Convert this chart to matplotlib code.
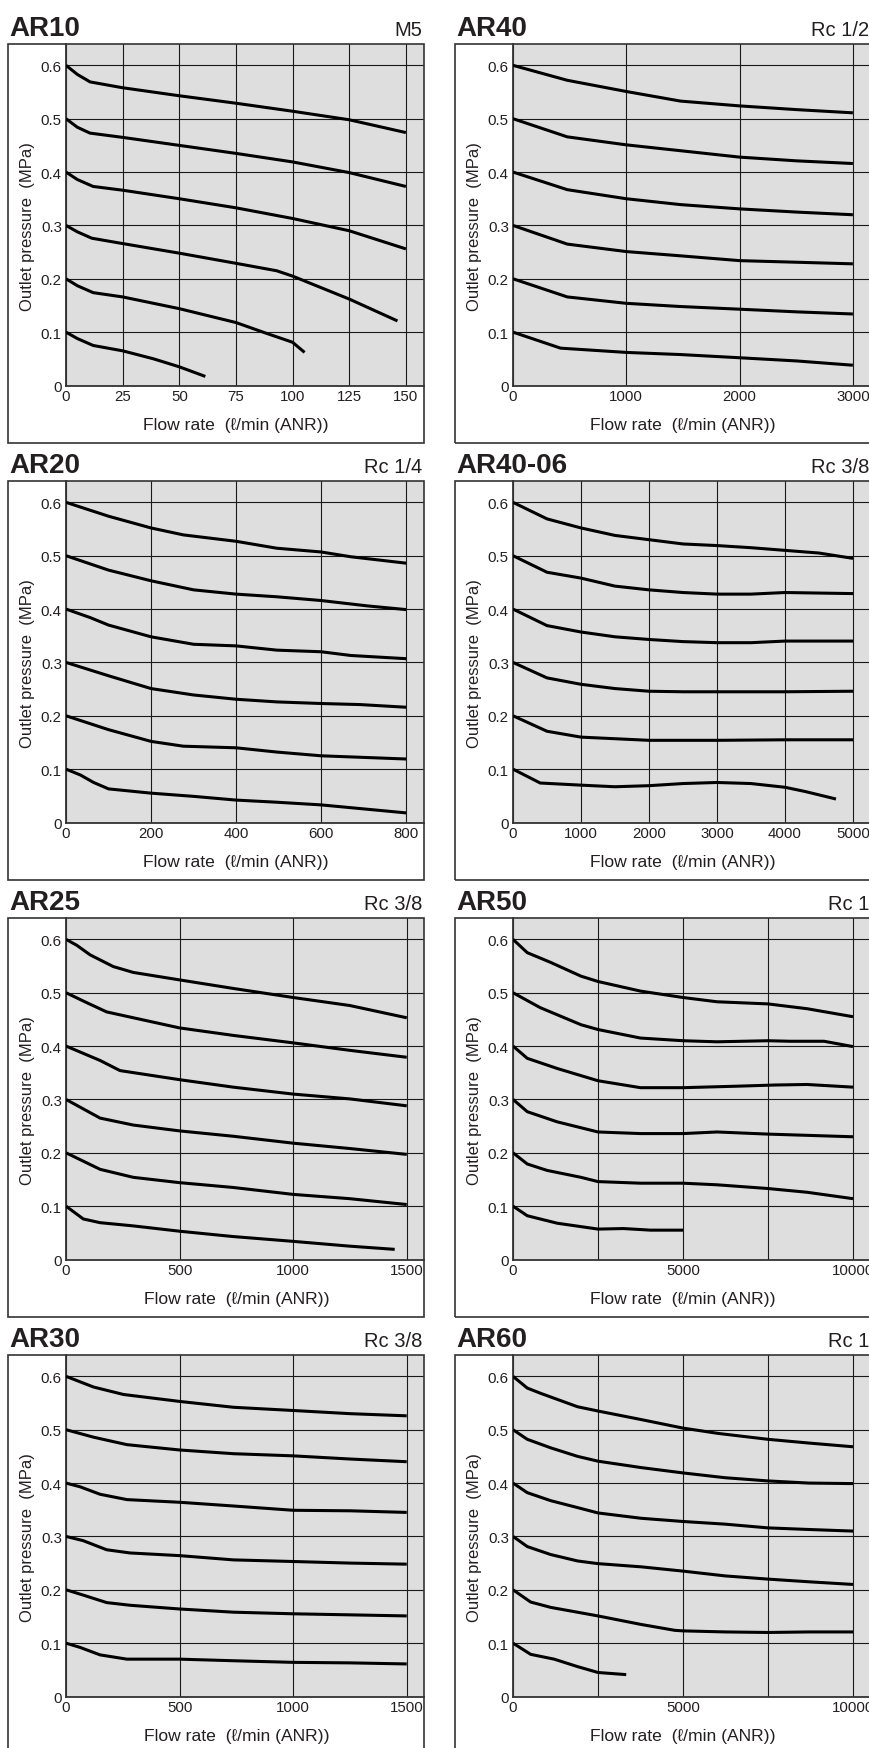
import matplotlib
matplotlib.use("Agg")
import matplotlib.pyplot as plt
from matplotlib.patches import Rectangle
from matplotlib.ticker import FixedLocator

plt.rcParams['font.family'] = ['Liberation Sans', 'DejaVu Sans']

# ---- data (flow, outlet pressure) ----
ar10_flow = [
    [0, 5, 10.6, 25, 50, 75, 100, 125, 150],
    [0, 5, 10.6, 25, 50, 75, 100, 125, 150],
    [0, 5, 12, 25, 50, 75, 100, 125, 150],
    [0, 5, 11.4, 25, 50, 75, 93, 100, 125, 146.3],
    [0, 5, 12, 25, 50, 75, 87.3, 100, 105.3],
    [0, 5, 12, 25, 38.6, 50, 61.5],
]
ar10_press = [
    [0.600, 0.583, 0.569, 0.558, 0.543, 0.529, 0.514, 0.498, 0.474],
    [0.500, 0.484, 0.473, 0.465, 0.450, 0.435, 0.419, 0.399, 0.373],
    [0.400, 0.386, 0.373, 0.366, 0.350, 0.333, 0.313, 0.290, 0.256],
    [0.300, 0.288, 0.276, 0.266, 0.248, 0.229, 0.215, 0.205, 0.162, 0.121],
    [0.200, 0.187, 0.174, 0.166, 0.144, 0.118, 0.0995, 0.081, 0.062],
    [0.100, 0.088, 0.075, 0.065, 0.050, 0.035, 0.017],
]

ar20_flow = [
    [0, 100, 200, 276, 400, 496, 600, 670, 800],
    [0, 100, 200, 300, 400, 496, 600, 708, 800],
    [0, 57, 100, 200, 300, 400, 496, 600, 670, 800],
    [0, 100, 200, 300, 400, 496, 600, 692, 800],
    [0, 100, 200, 276, 400, 496, 600, 800],
    [0, 34, 65, 100, 200, 300, 400, 496, 600, 800],
]
ar20_press = [
    [0.600, 0.574, 0.552, 0.539, 0.527, 0.514, 0.507, 0.498, 0.486],
    [0.500, 0.473, 0.453, 0.436, 0.428, 0.423, 0.416, 0.406, 0.399],
    [0.400, 0.384, 0.370, 0.348, 0.334, 0.331, 0.323, 0.320, 0.313, 0.307],
    [0.300, 0.275, 0.251, 0.239, 0.231, 0.226, 0.223, 0.221, 0.216],
    [0.200, 0.174, 0.152, 0.143, 0.140, 0.132, 0.125, 0.119],
    [0.100, 0.089, 0.075, 0.063, 0.055, 0.049, 0.042, 0.038, 0.033, 0.018],
]

ar25_flow = [
    [0, 47, 106, 208, 296, 500, 736, 1000, 1249, 1500],
    [0, 88, 179, 500, 736, 1000, 1249, 1500],
    [0, 150, 238, 500, 736, 1000, 1249, 1500],
    [0, 150, 296, 500, 736, 1000, 1249, 1500],
    [0, 150, 296, 500, 736, 1000, 1249, 1500],
    [0, 76, 150, 296, 500, 736, 1000, 1249, 1447],
]
ar25_press = [
    [0.600, 0.589, 0.571, 0.549, 0.538, 0.524, 0.508, 0.491, 0.476, 0.453],
    [0.500, 0.482, 0.464, 0.434, 0.420, 0.406, 0.392, 0.379],
    [0.400, 0.373, 0.354, 0.337, 0.323, 0.310, 0.301, 0.288],
    [0.300, 0.265, 0.252, 0.241, 0.231, 0.218, 0.208, 0.197],
    [0.200, 0.169, 0.154, 0.144, 0.135, 0.122, 0.114, 0.103],
    [0.100, 0.076, 0.069, 0.063, 0.053, 0.043, 0.034, 0.025, 0.019],
]

ar30_flow = [
    [0, 121, 253, 500, 738, 1000, 1253, 1500],
    [0, 121, 268, 500, 738, 1000, 1253, 1500],
    [0, 62, 150, 268, 500, 738, 1000, 1253, 1500],
    [0, 76, 179, 282, 500, 738, 1000, 1253, 1500],
    [0, 76, 179, 282, 500, 738, 1000, 1253, 1500],
    [0, 62, 150, 268, 500, 738, 1000, 1253, 1500],
]
ar30_press = [
    [0.600, 0.580, 0.566, 0.553, 0.542, 0.536, 0.530, 0.526],
    [0.500, 0.486, 0.472, 0.462, 0.455, 0.451, 0.445, 0.440],
    [0.400, 0.393, 0.379, 0.369, 0.364, 0.357, 0.349, 0.348, 0.345],
    [0.300, 0.292, 0.275, 0.269, 0.264, 0.256, 0.253, 0.250, 0.248],
    [0.200, 0.190, 0.176, 0.171, 0.164, 0.158, 0.155, 0.153, 0.151],
    [0.100, 0.092, 0.078, 0.070, 0.070, 0.067, 0.064, 0.063, 0.061],
]

ar40_flow = [
    [0, 479, 1000, 1479, 2000, 2505, 3000],
    [0, 479, 1000, 1479, 2000, 2505, 3000],
    [0, 479, 1000, 1479, 2000, 2505, 3000],
    [0, 479, 1000, 1479, 2000, 2505, 3000],
    [0, 479, 1000, 1479, 2000, 2505, 3000],
    [0, 420, 1000, 1479, 2000, 2505, 3000],
]
ar40_press = [
    [0.600, 0.572, 0.551, 0.533, 0.524, 0.517, 0.511],
    [0.500, 0.466, 0.451, 0.440, 0.428, 0.421, 0.416],
    [0.400, 0.367, 0.350, 0.339, 0.331, 0.325, 0.320],
    [0.300, 0.265, 0.251, 0.243, 0.234, 0.231, 0.228],
    [0.200, 0.166, 0.154, 0.148, 0.143, 0.138, 0.134],
    [0.100, 0.070, 0.062, 0.058, 0.052, 0.046, 0.038],
]

ar4006_flow = [
    [0, 500, 1000, 1500, 2000, 2500, 3000, 3500, 4000, 4500, 5000],
    [0, 500, 1000, 1500, 2000, 2500, 3000, 3500, 4000, 5000],
    [0, 500, 1000, 1500, 2000, 2500, 3000, 3500, 4000, 5000],
    [0, 500, 1000, 1500, 2000, 2500, 3000, 4000, 5000],
    [0, 500, 1000, 1500, 2000, 3000, 4000, 5000],
    [0, 400, 1000, 1500, 2000, 2500, 3000, 3500, 4000, 4300, 4750],
]
ar4006_press = [
    [0.600, 0.569, 0.552, 0.538, 0.530, 0.522, 0.519, 0.515, 0.510, 0.505, 0.495],
    [0.500, 0.469, 0.458, 0.443, 0.436, 0.431, 0.428, 0.428, 0.431, 0.429],
    [0.400, 0.369, 0.357, 0.348, 0.343, 0.339, 0.337, 0.337, 0.340, 0.340],
    [0.300, 0.271, 0.259, 0.251, 0.246, 0.245, 0.245, 0.245, 0.246],
    [0.200, 0.171, 0.160, 0.157, 0.154, 0.154, 0.155, 0.155],
    [0.100, 0.074, 0.070, 0.067, 0.069, 0.073, 0.075, 0.073, 0.066, 0.058, 0.044],
]

ar50_flow = [
    [0, 420, 1100, 2000, 2500, 3750, 5000, 6000, 7500, 8650, 10000],
    [0, 800, 2000, 2500, 3750, 5000, 6000, 7500, 8150, 9150, 10000],
    [0, 420, 1300, 2500, 3750, 5000, 6700, 7700, 8650, 10000],
    [0, 420, 1300, 2500, 3750, 5000, 6000, 7500, 10000],
    [0, 420, 1000, 2000, 2500, 3750, 5000, 6000, 7500, 8650, 10000],
    [0, 420, 1300, 2500, 3250, 4050, 5000],
]
ar50_press = [
    [0.600, 0.575, 0.557, 0.531, 0.521, 0.503, 0.491, 0.483, 0.479, 0.470, 0.455],
    [0.500, 0.472, 0.440, 0.431, 0.415, 0.410, 0.408, 0.410, 0.409, 0.409, 0.399],
    [0.400, 0.377, 0.358, 0.335, 0.322, 0.322, 0.325, 0.327, 0.328, 0.323],
    [0.300, 0.277, 0.258, 0.239, 0.236, 0.236, 0.239, 0.235, 0.230],
    [0.200, 0.179, 0.167, 0.154, 0.146, 0.143, 0.143, 0.140, 0.133, 0.126, 0.114],
    [0.100, 0.082, 0.068, 0.057, 0.058, 0.055, 0.055],
]

ar60_flow = [
    [0, 420, 820, 1900, 2500, 3770, 5000, 6040, 7500, 8700, 10000],
    [0, 420, 1110, 1900, 2500, 3770, 5000, 6240, 7500, 8700, 10000],
    [0, 420, 1110, 1900, 2500, 3770, 5000, 6240, 7500, 8700, 10000],
    [0, 420, 1110, 1900, 2500, 3770, 5000, 6240, 7500, 8700, 10000],
    [0, 520, 1110, 2500, 3770, 4760, 5000, 6240, 7500, 8700, 10000],
    [0, 520, 1210, 1900, 2500, 3330],
]
ar60_press = [
    [0.600, 0.578, 0.568, 0.543, 0.535, 0.519, 0.503, 0.493, 0.482, 0.475, 0.468],
    [0.500, 0.482, 0.466, 0.450, 0.441, 0.429, 0.419, 0.410, 0.404, 0.400, 0.399],
    [0.400, 0.382, 0.367, 0.354, 0.344, 0.334, 0.328, 0.323, 0.316, 0.313, 0.310],
    [0.300, 0.281, 0.266, 0.254, 0.249, 0.243, 0.235, 0.226, 0.220, 0.215, 0.210],
    [0.200, 0.177, 0.167, 0.151, 0.135, 0.124, 0.123, 0.121, 0.120, 0.121, 0.121],
    [0.100, 0.079, 0.070, 0.056, 0.045, 0.041],
]

models = ["AR10", "AR20", "AR25", "AR30", "AR40", "AR40-06", "AR50", "AR60"]
ports = ["M5", "Rc 1/4", "Rc 3/8", "Rc 3/8", "Rc 1/2", "Rc 3/8", "Rc 1", "Rc 1"]
flows = [ar10_flow, ar20_flow, ar25_flow, ar30_flow, ar40_flow, ar4006_flow, ar50_flow, ar60_flow]
pressures = [ar10_press, ar20_press, ar25_press, ar30_press, ar40_press, ar4006_press, ar50_press, ar60_press]
x_max = [158, 842, 1576, 1576, 3160, 5265, 10530, 10530]
x_ticks = [
    [0, 25, 50, 75, 100, 125, 150],
    [0, 200, 400, 600, 800],
    [0, 500, 1000, 1500],
    [0, 500, 1000, 1500],
    [0, 1000, 2000, 3000],
    [0, 1000, 2000, 3000, 4000, 5000],
    [0, 5000, 10000],
    [0, 5000, 10000],
]
x_minor = [[], [], [], [], [], [], [2500, 7500], [2500, 7500]]
y_ticks = [0, 0.1, 0.2, 0.3, 0.4, 0.5, 0.6]
y_labels = ["0", "0.1", "0.2", "0.3", "0.4", "0.5", "0.6"]

# ---- layout in pixels ----
W, H = 869, 1749
fig = plt.figure(figsize=(W / 100, H / 100), dpi=100)
fig.patch.set_facecolor("white")

TXT = "#231f20"
FRAME_W, FRAME_H = 416, 399
AX_W, AX_H = 358, 341.5

for i, model in enumerate(models):
    col, row = divmod(i, 4)
    fx = 8 + 447 * col
    fy = 45 + 437 * row

    ax = fig.add_axes([(fx + 58) / W, 1 - (fy + AX_H) / H, AX_W / W, AX_H / H])
    ax.set_facecolor("#dedede")
    for xs, ys in zip(flows[i], pressures[i]):
        ax.plot(xs, ys, color="black", lw=2.2, solid_joinstyle="round",
                solid_capstyle="butt", zorder=3)

    ax.set_xlim(0, x_max[i])
    ax.set_ylim(0, 0.64)
    ax.xaxis.set_major_locator(FixedLocator(x_ticks[i]))
    ax.set_xticklabels([str(t) for t in x_ticks[i]])
    ax.xaxis.set_minor_locator(FixedLocator(x_minor[i]))
    ax.set_yticks(y_ticks)
    ax.set_yticklabels(y_labels)
    ax.tick_params(which="both", length=0, labelsize=10.8, colors=TXT)
    ax.tick_params(axis="x", pad=2.6)
    ax.tick_params(axis="y", pad=3.0)
    ax.grid(True, which="both", color="#1a1a1a", lw=0.8, zorder=1)
    ax.set_axisbelow(True)
    for s in ["top", "right"]:
        ax.spines[s].set_visible(False)
    for s in ["left", "bottom"]:
        ax.spines[s].set_color("#333333")
        ax.spines[s].set_linewidth(1.3)

    last = x_ticks[i][-1]
    ax.set_xlabel("Flow rate  (\u2113/min (ANR))", fontsize=12.6, color=TXT)
    ax.xaxis.set_label_coords(last / 2 / x_max[i], -0.091)
    ax.set_ylabel("Outlet pressure  (MPa)", fontsize=12, color=TXT)
    ax.yaxis.set_label_coords(-0.087, 0.3 / 0.64)

    fig.add_artist(Rectangle((fx / W, 1 - (fy + FRAME_H) / H), FRAME_W / W, FRAME_H / H,
                             transform=fig.transFigure, fill=False,
                             ec="#333333", lw=1.2, zorder=5))
    fig.text((fx + 1.0) / W, 1 - (fy - 9) / H, model, ha="left", va="baseline",
             fontsize=20, fontweight="bold", color=TXT)
    fig.text((fx + 414.5) / W, 1 - (fy - 9) / H, ports[i], ha="right", va="baseline",
             fontsize=14.5, color=TXT)

fig.savefig("out.png", dpi=100)
